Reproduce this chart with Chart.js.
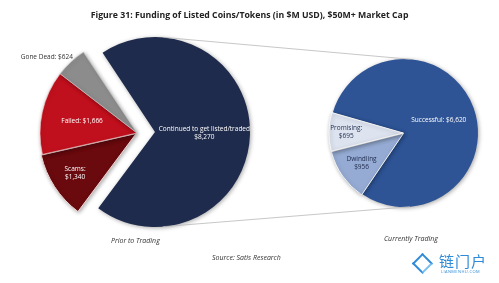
<!DOCTYPE html>
<html>
<head>
<meta charset="utf-8">
<script src="https://cdn.jsdelivr.net/npm/chart.js@4.4.0/dist/chart.umd.min.js"></script>
<style>
  html, body { margin: 0; padding: 0; background: #fff; }
  #wrap { position: relative; width: 499px; height: 283px; overflow: hidden; font-family: 'Open Sans', sans-serif; }
  #wrap canvas { position: absolute; left: 0; top: 0; }
  .txt { position: absolute; white-space: nowrap; color: #222; transform-origin: center center; }
  #title { left: 0; width: 499px; top: 8px; text-align: center; font-weight: 700; font-size: 9.6px; }
  #title span { display: inline-block; transform: scaleX(0.91); }
  .cap { font-style: italic; font-size: 7px; color: #333; }
  #logo { position: absolute; left: 412px; top: 252px; width: 84px; height: 26px; }
  #logo .dia { position: absolute; left: 3px; top: 4px; width: 11px; height: 11px; border: 2.5px solid #2f8ad8; transform: rotate(45deg); border-right-color: #7cc0f0; }
  #logo .cn { position: absolute; left: 27px; top: -1px; font-family: 'Noto Sans CJK SC', sans-serif; font-size: 15px; color: #2f8ad8; line-height: 19px; letter-spacing: 1px; }
  #logo .en { position: absolute; left: 29px; top: 17px; font-size: 4px; color: #2f8ad8; letter-spacing: 0.4px; }
</style>
</head>
<body>
<div id="wrap">
  <canvas id="priorMain" width="499" height="283"></canvas>
  <canvas id="priorRest" width="499" height="283"></canvas>
  <canvas id="current" width="499" height="283"></canvas>
  <div id="title" class="txt"><span>Figure 31: Funding of Listed Coins/Tokens (in $M USD), $50M+ Market Cap</span></div>
  <div class="txt cap" style="left:111px; top:236px;">Prior to Trading</div>
  <div class="txt cap" style="left:384px; top:234px;">Currently Trading</div>
  <div class="txt cap" style="left:212px; top:253px;">Source: Satis Research</div>
  <div id="logo"><div class="dia"></div><div class="cn">链门户</div><div class="en">LIANMENHU.COM</div></div>
</div>
<script>
// data
const priorLabels = ['Continued to get listed/traded', 'Scams', 'Failed', 'Gone Dead'];
const priorValues = [8270, 1340, 1666, 624];
const currentLabels = ['Successful', 'Dwindling', 'Promising'];
const currentValues = [6620, 956, 695];

const priorColors = ['#1f2b4c', '#6a0a0e', '#c1101d', '#8c8c8c'];
const currentColors = ['#2e5496', '#95abd3', '#dde4f0'];

const W = 499, H = 283;

// chart area centred on (cx, cy)
function padAround(cx, cy, half) {
  return { left: cx - half, right: W - cx - half, top: cy - half, bottom: H - cy - half };
}

function money(v) {
  return '$' + v.toLocaleString('en-US');
}

// writes the slice labels at a fraction of the radius along the slice middle
const sliceLabels = {
  id: 'sliceLabels',
  afterDatasetsDraw(chart, args, opts) {
    const ctx = chart.ctx;
    const meta = chart.getDatasetMeta(0);
    const labels = chart.data.labels;
    const values = chart.data.datasets[0].data;
    ctx.save();
    ctx.font = '6.5px "Open Sans"';
    ctx.textBaseline = 'middle';
    (opts.items || []).forEach(it => {
      const arc = meta.data[it.i];
      const mid = (arc.startAngle + arc.endAngle) / 2;
      const off = arc.options.offset || 0;
      const r = arc.outerRadius * it.frac + off;
      const x = arc.x + Math.cos(mid) * r + (it.dx || 0);
      const y = arc.y + Math.sin(mid) * r + (it.dy || 0);
      const text = (labels[it.i] + it.sep + money(values[it.i])).split('\n');
      ctx.fillStyle = it.color;
      ctx.textAlign = it.align || 'center';
      const lh = 8;
      text.forEach((t, k) => {
        ctx.fillText(t, x, y + (k - (text.length - 1) / 2) * lh);
      });
    });
    ctx.restore();
  }
};

// soft shadow under the pies
const pieShadow = {
  id: 'pieShadow',
  beforeDatasetsDraw(chart) {
    const ctx = chart.ctx;
    ctx.save();
    ctx.shadowColor = 'rgba(0,0,0,0.35)';
    ctx.shadowBlur = 4;
    ctx.shadowOffsetX = 1;
    ctx.shadowOffsetY = 1;
  },
  afterDatasetsDraw(chart) {
    chart.ctx.restore();
  }
};

function pieOptions(cx, cy, radius, rotation, items) {
  return {
    responsive: false,
    animation: false,
    events: [],
    rotation: rotation,
    radius: radius,
    layout: { padding: padAround(cx, cy, radius + 10) },
    plugins: {
      legend: { display: false },
      tooltip: { enabled: false },
      sliceLabels: { items: items }
    }
  };
}

// big navy slice
const chartMain = new Chart(document.getElementById('priorMain'), {
  type: 'pie',
  data: {
    labels: priorLabels,
    datasets: [{
      data: priorValues,
      backgroundColor: [priorColors[0], 'rgba(0,0,0,0)', 'rgba(0,0,0,0)', 'rgba(0,0,0,0)'],
      borderWidth: 0
    }]
  },
  options: pieOptions(155, 132, 95, 326.5, [
    { i: 0, frac: 0.52, sep: '\n', color: '#ffffff' }
  ]),
  plugins: [pieShadow, sliceLabels]
});

// the pulled out slices, same angles, centre moved left
const chartRest = new Chart(document.getElementById('priorRest'), {
  type: 'pie',
  data: {
    labels: priorLabels,
    datasets: [{
      data: priorValues,
      backgroundColor: ['rgba(0,0,0,0)', priorColors[1], priorColors[2], priorColors[3]],
      borderColor: ['rgba(0,0,0,0)', '#f3d6d6', '#f3d6d6', '#d0d0d0'],
      borderWidth: [0, 1, 0.6, 0.6],
      offset: [0, 4, 0, 0]
    }]
  },
  options: pieOptions(137, 133, 97, 326.5, [
    { i: 1, frac: 0.72, sep: ':\n', color: '#ffffff' },
    { i: 2, frac: 0.58, sep: ': ', color: '#ffffff' },
    { i: 3, frac: 1.0, sep: ': ', color: '#333333', align: 'right', dx: 2, dy: -5 }
  ]),
  plugins: [pieShadow, sliceLabels]
});

// lines joining the two pies (outer tangents of both circles)
const joinLines = {
  id: 'joinLines',
  afterDatasetsDraw(chart) {
    const a = chartMain.getDatasetMeta(0).data[0];
    const b = chart.getDatasetMeta(0).data[0];
    const dx = b.x - a.x, dy = b.y - a.y;
    const d = Math.hypot(dx, dy);
    const ux = dx / d, uy = dy / d;
    const c = (a.outerRadius - b.outerRadius) / d;
    const s = Math.sqrt(1 - c * c);
    const ctx = chart.ctx;
    ctx.save();
    ctx.strokeStyle = '#b9b9b9';
    ctx.lineWidth = 0.8;
    [-1, 1].forEach(sign => {
      const nx = c * ux - sign * s * uy;
      const ny = c * uy + sign * s * ux;
      ctx.beginPath();
      ctx.moveTo(a.x + nx * a.outerRadius, a.y + ny * a.outerRadius);
      ctx.lineTo(b.x + nx * b.outerRadius, b.y + ny * b.outerRadius);
      ctx.stroke();
    });
    ctx.restore();
  }
};

const chartCurrent = new Chart(document.getElementById('current'), {
  type: 'pie',
  data: {
    labels: currentLabels,
    datasets: [{
      data: currentValues,
      backgroundColor: currentColors,
      borderColor: '#ffffff',
      borderWidth: [0, 0.8, 0.8],
      offset: [0, 3, 3]
    }]
  },
  options: pieOptions(404, 133, 74, 286, [
    { i: 0, frac: 0.5, sep: ': ', color: '#ffffff' },
    { i: 1, frac: 0.66, sep: '\n', color: '#1f2b4c' },
    { i: 2, frac: 0.74, sep: ':\n', color: '#1f2b4c' }
  ]),
  plugins: [pieShadow, joinLines, sliceLabels]
});
</script>
</body>
</html>
